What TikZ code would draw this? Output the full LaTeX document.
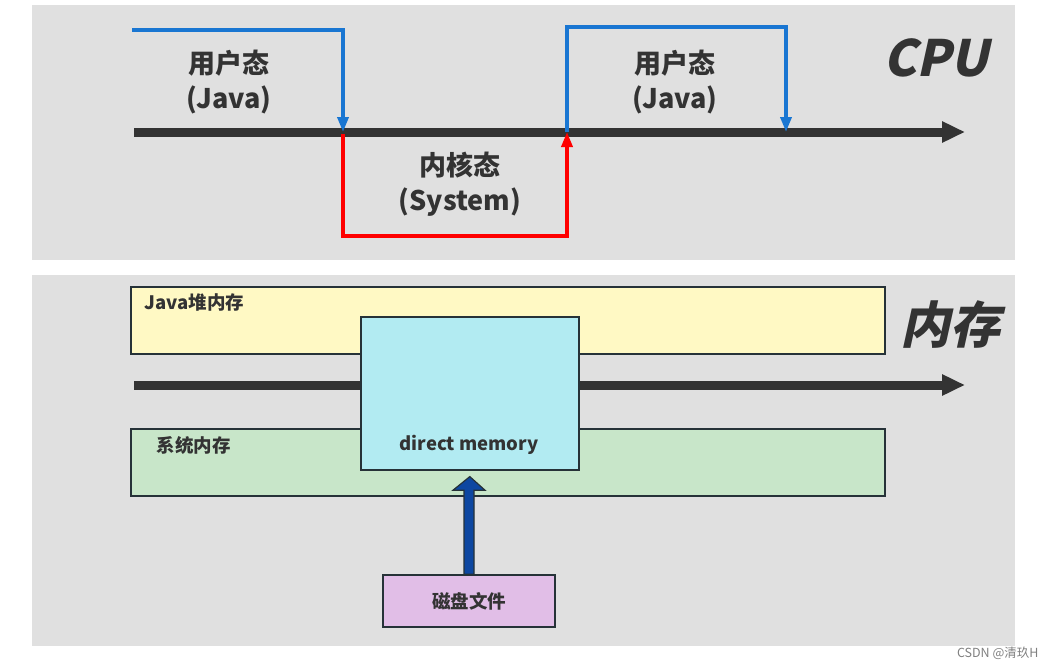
\documentclass[tikz,border=0pt]{standalone}
\usepackage{fontspec}
\setmainfont{Noto Sans CJK SC}
\newfontfamily\slantfont[FakeSlant=0.22]{Noto Sans CJK SC}
\usepackage{xcolor}
\usetikzlibrary{arrows.meta,calc}
\definecolor{panelgray}{HTML}{E0E0E0}
\definecolor{axisgray}{HTML}{333333}
\definecolor{textgray}{HTML}{333333}
\definecolor{userblue}{HTML}{1976D2}
\definecolor{kernelred}{HTML}{FF0000}
\definecolor{heapyellow}{HTML}{FFF9C4}
\definecolor{sysgreen}{HTML}{C8E6C9}
\definecolor{directcyan}{HTML}{B2EBF2}
\definecolor{diskpurple}{HTML}{E1BEE7}
\definecolor{boxline}{HTML}{263238}
\definecolor{arrowblue}{HTML}{0D47A1}

\begin{document}
\begin{tikzpicture}[x=1pt,y=-1pt,
    axis/.style={line width=9pt,draw=axisgray,-{Triangle[length=23pt,width=20pt]}},
    userline/.style={line width=3.5pt,draw=userblue,-{Triangle[length=15pt,width=11pt]}},
    kernelline/.style={line width=3.5pt,draw=kernelred,-{Triangle[length=15pt,width=11pt]}},
    statetext/.style={text=textgray,align=center,font=\bfseries\fontsize{27}{35}\selectfont},
    bigtitle/.style={text=textgray,font=\slantfont\bfseries\fontsize{50}{50}\selectfont},
    membox/.style={draw=boxline,line width=1.6pt,inner sep=0pt,anchor=north west},
    boxtext/.style={text=textgray,font=\bfseries\fontsize{18.5}{18.5}\selectfont},
    bigarrow/.style={fill=arrowblue,draw=boxline,line width=1.2pt,line join=miter}]
    \useasboundingbox (0,0) rectangle (1056,669);
    \fill[panelgray] (32,5) rectangle (1015,260);
    \fill[panelgray] (32,275) rectangle (1015,646);

    \coordinate (c0) at (132,30);
    \coordinate (c1) at (343,132);
    \coordinate (c2) at (567,132);
    \coordinate (c3) at (786,132);
    \draw[axis] (134,132) -- (965,132);
    \draw[userline] (c0) -- (c0 -| c1) -- (c1);
    \draw[kernelline] ($(c1)+(0,2)$) -- ++(0,102) -| (c2);
    \draw[userline] (c2) -- ++(0,-105) -| (c3);
    \node[statetext] (user1) at (229,82) {用户态\\(Java)};
    \node[statetext] (kernel) at (460,184) {内核态\\(System)};
    \node[statetext] (user2) at (675,82) {用户态\\(Java)};
    \node[bigtitle] (cpu) at (936,58) {CPU};

    \node[membox,fill=heapyellow,minimum width=754pt,minimum height=67pt] (heap) at (130,286) {};
    \node[membox,fill=sysgreen,minimum width=754pt,minimum height=67pt] (sys) at (130,428) {};
    \node[boxtext,anchor=west] (heaplabel) at (141,302) {Java堆内存};
    \node[boxtext,anchor=west] (syslabel) at (153,445) {系统内存};
    \draw[axis] (134,385) -- (965,385);
    \node[membox,fill=directcyan,minimum width=218pt,minimum height=153pt] (direct) at (360,316) {};
    \node[boxtext] (directlabel) at (469,445) {direct memory};
    \node[bigtitle] (mem) at (950,325) {内存};

    \node[membox,anchor=center,fill=diskpurple,minimum width=172pt,minimum height=52pt,boxtext] (disk) at (469,601) {磁盘文件};
    \draw[bigarrow] ($(disk.north)+(-5,0)$) -- ++(0,-84) -- ++(-11,0)
        -- ($(direct.south)+(0,6)$) -- ($(disk.north)+(16,-84)$)
        -- ++(-11,0) -- ($(disk.north)+(5,0)$) -- cycle;

    \node[anchor=east,text=gray,font=\fontsize{12.5}{12.5}\selectfont] (mark) at (1042,653) {CSDN @清玖H};
\end{tikzpicture}
\end{document}
